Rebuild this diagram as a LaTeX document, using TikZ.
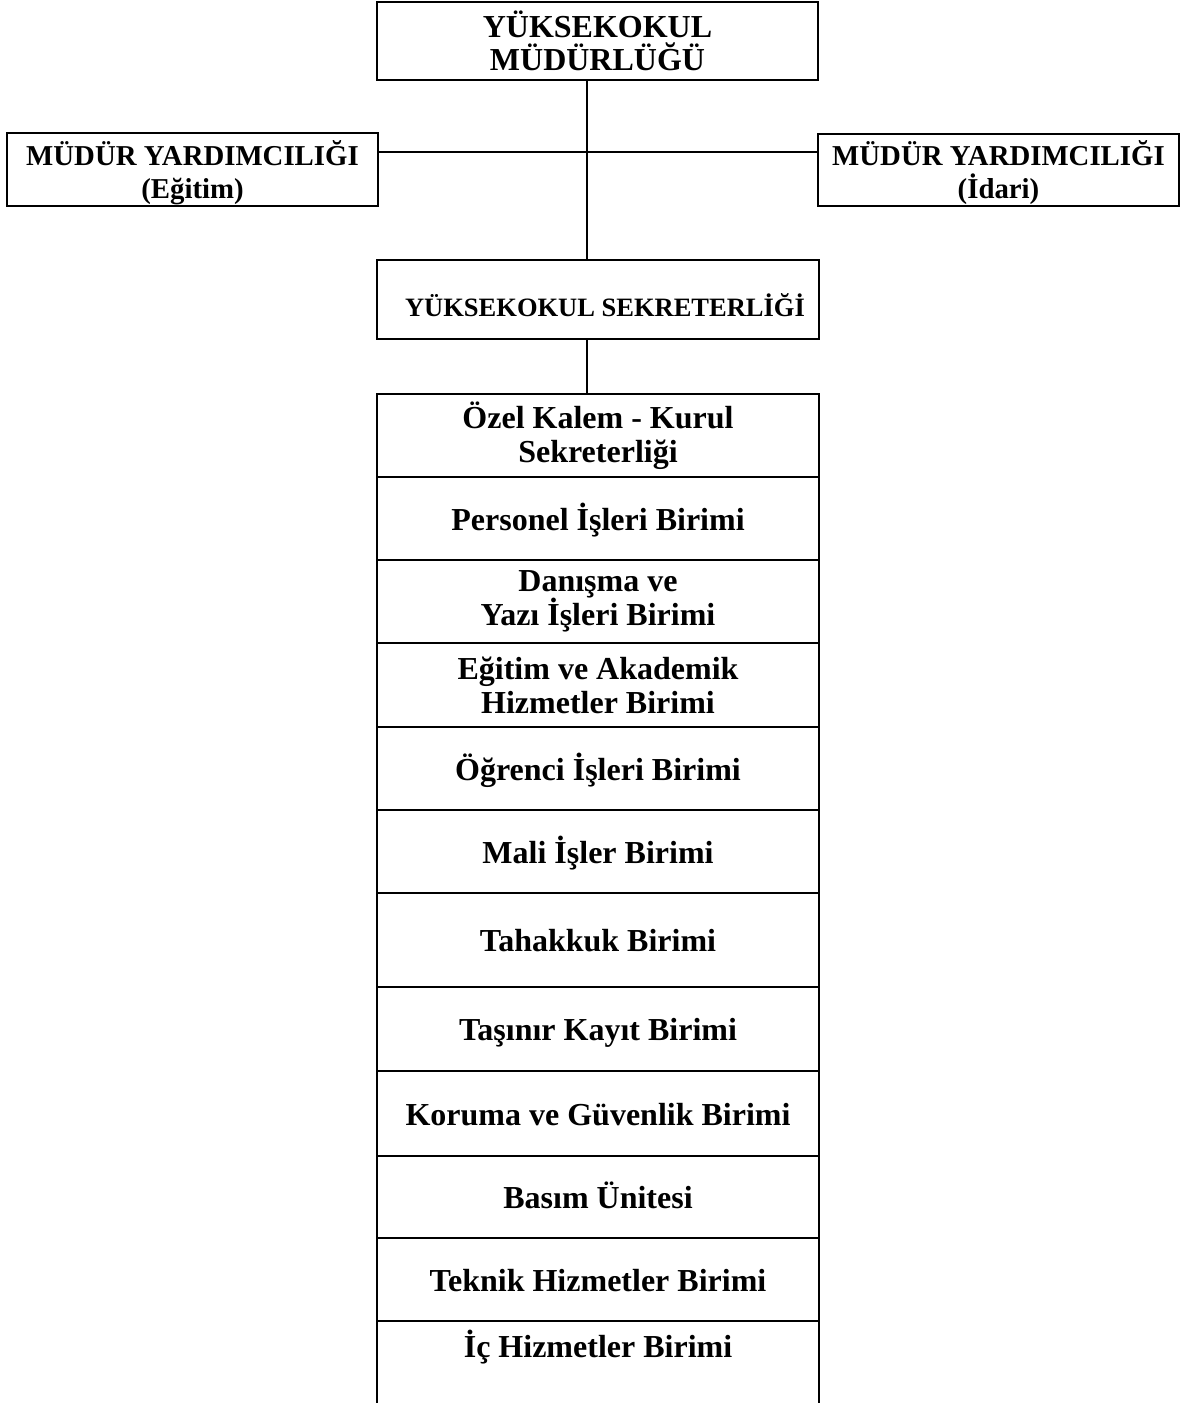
\documentclass[tikz,border=0pt]{standalone}
\usepackage{fontspec}
\setmainfont{Liberation Serif}
\newcommand\myrowfont{\fontsize{16pt}{17pt}\selectfont\bfseries\lineskiplimit=-10pt}
\newcommand\mytitlefont{\fontsize{16pt}{16.75pt}\selectfont\bfseries\lineskiplimit=-10pt}
\newcommand\mydepfont{\fontsize{14.4pt}{16.5pt}\selectfont\bfseries\lineskiplimit=-10pt}
\newcommand\mysecfont{\fontsize{13.25pt}{14pt}\selectfont\bfseries}
\begin{document}
\begin{tikzpicture}[x=0.5pt,y=-0.5pt,
  every node/.style={outer sep=0pt},
  box/.style={draw,line width=1.45pt,inner sep=0pt,align=center},
  row/.style={draw,line width=1.45pt,inner sep=0pt,anchor=north west,minimum width=221pt,font=\myrowfont,align=center},
  oneline/.style={row,text height=12pt,text depth=0.5pt},
  conn/.style={line width=1.45pt}]
\useasboundingbox (0,0) rectangle (1185,1403);
% top
\node[box,minimum width=220.5pt,minimum height=39pt,font=\mytitlefont] (title) at (597.5,41) {YÜKSEKOKUL\\MÜDÜRLÜĞÜ};
\node[box,minimum width=185.5pt,minimum height=36.5pt,font=\mydepfont] (dl) at (192.5,169.5) {\rule{0pt}{15.5pt}MÜDÜR YARDIMCILIĞI\\(Eğitim)};
\node[box,minimum width=180.5pt,minimum height=36pt,font=\mydepfont] (dr) at (998.5,170) {\rule{0pt}{15.5pt}MÜDÜR YARDIMCILIĞI\\(İdari)};
\node[draw,line width=1.45pt,inner sep=0pt,minimum width=221pt,minimum height=39.5pt,font=\mysecfont,text height=16.5pt,text depth=0pt] (sec) at (598,299.5) {\hspace*{7pt}YÜKSEKOKUL SEKRETERLİĞİ};
% stack
\node[row,minimum height=41.5pt] (r1) at (377,394) {Özel Kalem - Kurul\\Sekreterliği};
\node[oneline,minimum height=41.5pt] (r2) at (377,477) {Personel İşleri Birimi};
\node[row,minimum height=41.5pt] (r3) at (377,560) {Danışma ve\\Yazı İşleri Birimi};
\node[row,minimum height=42pt] (r4) at (377,643) {Eğitim ve Akademik\\Hizmetler Birimi};
\node[oneline,minimum height=41.5pt] (r5) at (377,727) {Öğrenci İşleri Birimi};
\node[oneline,minimum height=41.5pt] (r6) at (377,810) {Mali İşler Birimi};
\node[oneline,minimum height=47pt] (r7) at (377,893) {Tahakkuk Birimi};
\node[oneline,minimum height=42pt] (r8) at (377,987) {Taşınır Kayıt Birimi};
\node[oneline,minimum height=42.5pt] (r9) at (377,1071) {Koruma ve Güvenlik Birimi};
\node[oneline,minimum height=41pt] (r10) at (377,1156) {Basım Ünitesi};
\node[oneline,minimum height=41.5pt] (r11) at (377,1238) {Teknik Hizmetler Birimi};
\node[oneline,draw=none,minimum height=41pt,text height=4pt,text depth=9pt] (r12) at (377,1321) {İç Hizmetler Birimi};
\draw[conn] (r12.south west) -- (r12.north west) -- (r12.north east) -- (r12.south east);
% connectors
\coordinate (vx) at (587,0);
\coordinate (hy) at (0,152);
\draw[conn] (title.south -| vx) -- (sec.north -| vx);
\draw[conn] (dl.east |- hy) -- (dr.west |- hy);
\draw[conn] (sec.south -| vx) -- (r1.north -| vx);
\end{tikzpicture}
\end{document}
